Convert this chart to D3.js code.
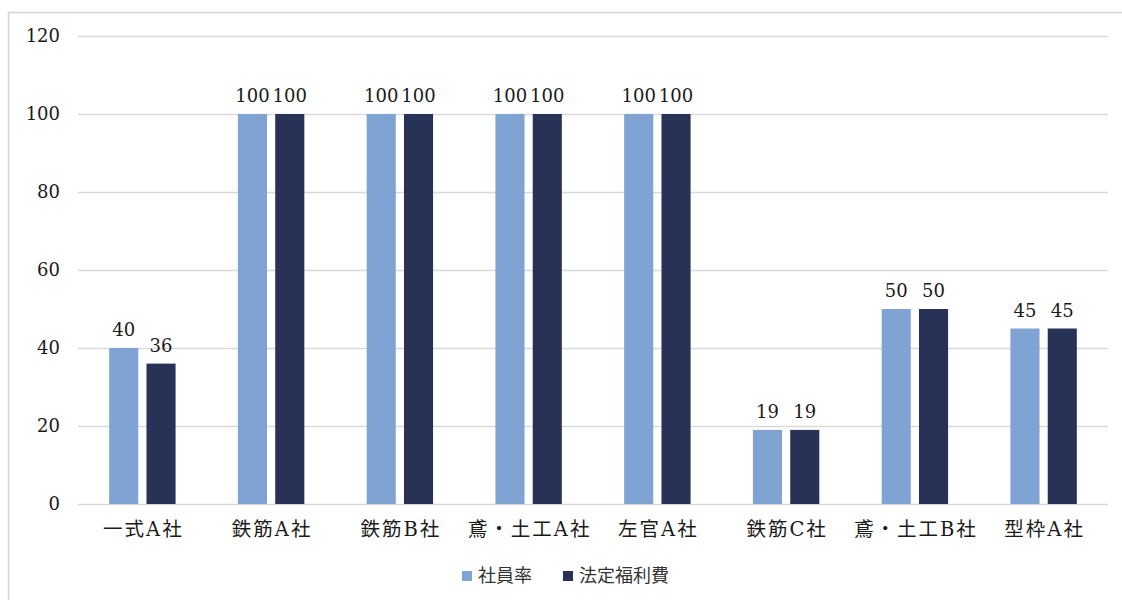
<!DOCTYPE html>
<html>
<head>
<meta charset="utf-8">
<script src="https://cdn.jsdelivr.net/npm/d3@7/dist/d3.min.js"></script>
<style>
  html, body { margin: 0; padding: 0; background: #fff; }
  svg { display: block; }
</style>
</head>
<body>
<svg id="chart" width="1122" height="600"></svg>
<script>
// Company categories along the x axis
const categories = ["一式A社", "鉄筋A社", "鉄筋B社", "鳶・土工A社", "左官A社", "鉄筋C社", "鳶・土工B社", "型枠A社"];
// Series names
const seriesNames = ["社員率", "法定福利費"];
// Values per series
const shainRitsu = [40, 100, 100, 100, 100, 19, 50, 45];
const houteiFukuri = [36, 100, 100, 100, 100, 19, 50, 45];
// Y axis ticks
const yTicks = [0, 20, 40, 60, 80, 100, 120];

const seriesValues = [shainRitsu, houteiFukuri];
const colors = ["#7fa3d2", "#283256"];

const svg = d3.select("#chart");

// Outer frame
svg.append("rect")
  .attr("x", 8.5).attr("y", 12.5)
  .attr("width", 1130).attr("height", 600)
  .attr("fill", "#fff")
  .attr("stroke", "#d4d4d4")
  .attr("stroke-width", 1.5);

const plot = { left: 78, right: 1108, top: 36, bottom: 504 };

const y = d3.scaleLinear().domain([0, 120]).range([plot.bottom, plot.top]);
const x0 = d3.scaleBand().domain(categories).range([plot.left, plot.right]).paddingInner(0).paddingOuter(0);
const bw = x0.bandwidth();
const x1 = d3.scaleBand().domain(seriesNames)
  .range([bw / 2 - 33.2, bw / 2 + 33.2])
  .paddingInner(0.22).paddingOuter(0);

const numFont = "'DejaVu Serif', serif";
const catFont = "'DejaVu Serif', 'Noto Sans CJK JP', serif";
const legFont = "'Noto Sans CJK JP', sans-serif";

// Grid lines and y labels
const yAxis = d3.axisLeft(y).tickValues(yTicks).tickSize(-(plot.right - plot.left)).tickPadding(18).tickFormat(d3.format("d"));
const gy = svg.append("g").attr("transform", `translate(${plot.left},0)`).call(yAxis);
gy.attr("font-family", null).attr("font-size", null);
gy.select(".domain").remove();
gy.selectAll(".tick line").attr("stroke", "#d9d9d9").attr("stroke-width", 1.5);
gy.selectAll(".tick text")
  .attr("fill", "#1a1a1a")
  .attr("font-family", numFont)
  .attr("font-size", 18);

// Category labels
const xAxis = d3.axisBottom(x0).tickSize(0).tickPadding(18);
const gx = svg.append("g").attr("transform", `translate(0,${plot.bottom})`).call(xAxis);
gx.attr("font-family", null).attr("font-size", null);
gx.select(".domain").remove();
gx.selectAll(".tick text")
  .attr("fill", "#1a1a1a")
  .attr("font-family", catFont)
  .attr("font-size", 19.5)
  .attr("letter-spacing", 2)
  .attr("dx", 1);

// Bars
const groups = svg.append("g").selectAll("g")
  .data(categories)
  .join("g")
  .attr("transform", d => `translate(${x0(d)},0)`);

const cells = (d, i) => seriesNames.map((s, k) => ({ s, k, v: seriesValues[k][i] }));

groups.selectAll("rect")
  .data(cells)
  .join("rect")
  .attr("x", d => x1(d.s))
  .attr("y", d => y(d.v))
  .attr("width", x1.bandwidth())
  .attr("height", d => y(0) - y(d.v))
  .attr("fill", d => colors[d.k]);

// Value labels
groups.selectAll("text.val")
  .data(cells)
  .join("text")
  .attr("class", "val")
  .attr("x", d => x1(d.s) + x1.bandwidth() / 2)
  .attr("y", d => y(d.v) - 12)
  .attr("text-anchor", "middle")
  .attr("fill", "#1a1a1a")
  .attr("font-family", numFont)
  .attr("font-size", 18)
  .text(d => d3.format("d")(d.v));

// Legend
const legend = svg.append("g").attr("transform", "translate(462,576)");
const legendX = [0, 101];
seriesNames.forEach((name, k) => {
  const g = legend.append("g").attr("transform", `translate(${legendX[k]},0)`);
  g.append("rect").attr("x", 0).attr("y", -5).attr("width", 10).attr("height", 10).attr("fill", colors[k]);
  g.append("text").attr("x", 16).attr("y", 0).attr("dy", "0.36em")
    .attr("fill", "#333")
    .attr("font-family", legFont)
    .attr("font-size", 18)
    .text(name);
});
</script>
</body>
</html>
